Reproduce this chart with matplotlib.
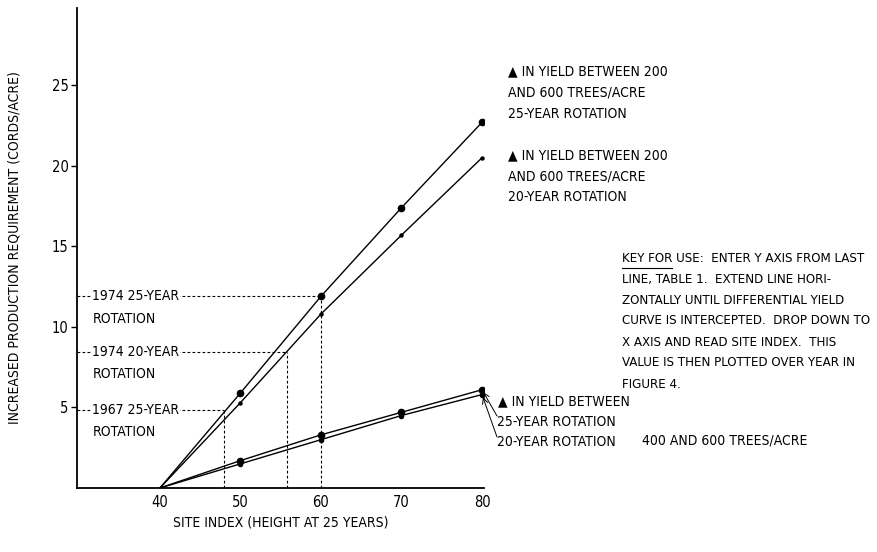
import matplotlib
matplotlib.use("Agg")
import matplotlib.pyplot as plt
from matplotlib.lines import Line2D

plt.rcParams['font.family'] = ['DejaVu Sans']
plt.rcParams['font.stretch'] = 'condensed'

# Site index (height at 25 years)
site_index = [40, 50, 60, 70, 80]

# Increased production requirement (cords/acre), differential yield curves
yield_25yr_200_600 = [0, 5.9, 11.9, 17.4, 22.7]
yield_20yr_200_600 = [0, 5.3, 10.8, 15.7, 20.5]
yield_25yr_400_600 = [0, 1.7, 3.3, 4.7, 6.1]
yield_20yr_400_600 = [0, 1.5, 3.0, 4.5, 5.8]

# Reading guides: requirement level entered on Y, site index read on X
guide_titles = ["1974 25-YEAR", "1974 20-YEAR", "1967 25-YEAR"]
guide_levels = [11.9, 8.45, 4.85]
guide_site = [60.0, 55.8, 48.0]

y_ticks = [5, 10, 15, 20, 25]
x_ticks = [40, 50, 60, 70, 80]

W, H = 877, 552
fig = plt.figure(figsize=(W / 100, H / 100), dpi=100)
ax = fig.add_axes([77 / W, (H - 488) / H, (484 - 77) / W, (488 - 8) / H])
ax.set_xlim(29.7, 80.25)
ax.set_ylim(0, 29.8)

fs = 10
ink = "black"

ax.spines['top'].set_visible(False)
ax.spines['right'].set_visible(False)
for s in ('left', 'bottom'):
    ax.spines[s].set_linewidth(1.3)
ax.set_xticks(x_ticks)
ax.set_yticks(y_ticks)
ax.tick_params(axis='x', length=0, pad=5, labelsize=fs + 0.5)
ax.tick_params(axis='y', length=4, width=1, pad=2, labelsize=fs + 0.5)

# Curves
ax.plot(site_index, yield_25yr_200_600, color=ink, lw=1.0)
ax.plot(site_index[1:], yield_25yr_200_600[1:], 'o', color=ink, ms=4.5)
ax.plot(site_index, yield_20yr_200_600, color=ink, lw=1.0)
ax.plot(site_index[1:], yield_20yr_200_600[1:], 'o', color=ink, ms=2.2)
ax.plot(site_index, yield_25yr_400_600, color=ink, lw=1.0)
ax.plot(site_index[1:], yield_25yr_400_600[1:], 'o', color=ink, ms=4.5)
ax.plot(site_index, yield_20yr_400_600, color=ink, lw=1.0)
ax.plot(site_index[1:], yield_20yr_400_600[1:], 'o', color=ink, ms=3.0)

# Dashed reading guides
for title, lev, si in zip(guide_titles, guide_levels, guide_site):
    ax.plot([ax.get_xlim()[0], si], [lev, lev], color=ink, lw=0.8, ls=(0, (2.5, 2)))
    ax.plot([si, si], [0, lev], color=ink, lw=0.8, ls=(0, (2.5, 2)))
    ax.text(31.6, lev, title, fontsize=fs, va='center', ha='left',
            bbox=dict(facecolor='white', edgecolor='none', pad=0.3))
    ax.annotate("ROTATION", xy=(31.6, lev), xycoords='data', xytext=(0, -16),
                textcoords='offset points', fontsize=fs, va='center', ha='left')

ax.set_xlabel("SITE INDEX (HEIGHT AT 25 YEARS)", fontsize=fs, labelpad=4)
ax.set_ylabel("INCREASED PRODUCTION REQUIREMENT (CORDS/ACRE)", fontsize=fs, labelpad=22)


def ftext(x, y, s, size=fs, **kw):
    fig.text(x / W, 1 - y / H, s, fontsize=size, va='center', ha='left', **kw)


# Upper curve annotations
ftext(508, 71, "▲ IN YIELD BETWEEN 200")
ftext(508, 92, "AND 600 TREES/ACRE")
ftext(508, 114, "25-YEAR ROTATION")
ftext(508, 155, "▲ IN YIELD BETWEEN 200")
ftext(508, 176, "AND 600 TREES/ACRE")
ftext(508, 197, "20-YEAR ROTATION")

# Key for use
key_lines = ["KEY FOR USE:  ENTER Y AXIS FROM LAST",
             "LINE, TABLE 1.  EXTEND LINE HORI-",
             "ZONTALLY UNTIL DIFFERENTIAL YIELD",
             "CURVE IS INTERCEPTED.  DROP DOWN TO",
             "X AXIS AND READ SITE INDEX.  THIS",
             "VALUE IS THEN PLOTTED OVER YEAR IN",
             "FIGURE 4."]
for i, line in enumerate(key_lines):
    ftext(622, 258 + i * 21, line, size=9.5)
fig.add_artist(Line2D([622 / W, 672 / W], [1 - 268 / H, 1 - 268 / H], color=ink, lw=0.8))

# Lower curve annotations
ftext(498, 401, "▲ IN YIELD BETWEEN")
ftext(497, 422, "25-YEAR ROTATION")
ftext(497, 442, "20-YEAR ROTATION")
ftext(642, 441, "400 AND 600 TREES/ACRE")

arrow = dict(arrowstyle='->', lw=0.7, color=ink, shrinkA=0, shrinkB=2)
ax.annotate("", xy=(site_index[-1], yield_25yr_400_600[-1]), xycoords='data',
            xytext=(497 / W, 1 - 416 / H), textcoords='figure fraction', arrowprops=arrow)
ax.annotate("", xy=(site_index[-1], yield_20yr_400_600[-1]), xycoords='data',
            xytext=(497 / W, 1 - 437 / H), textcoords='figure fraction', arrowprops=arrow)

fig.savefig("out.png", dpi=100, facecolor='white')
